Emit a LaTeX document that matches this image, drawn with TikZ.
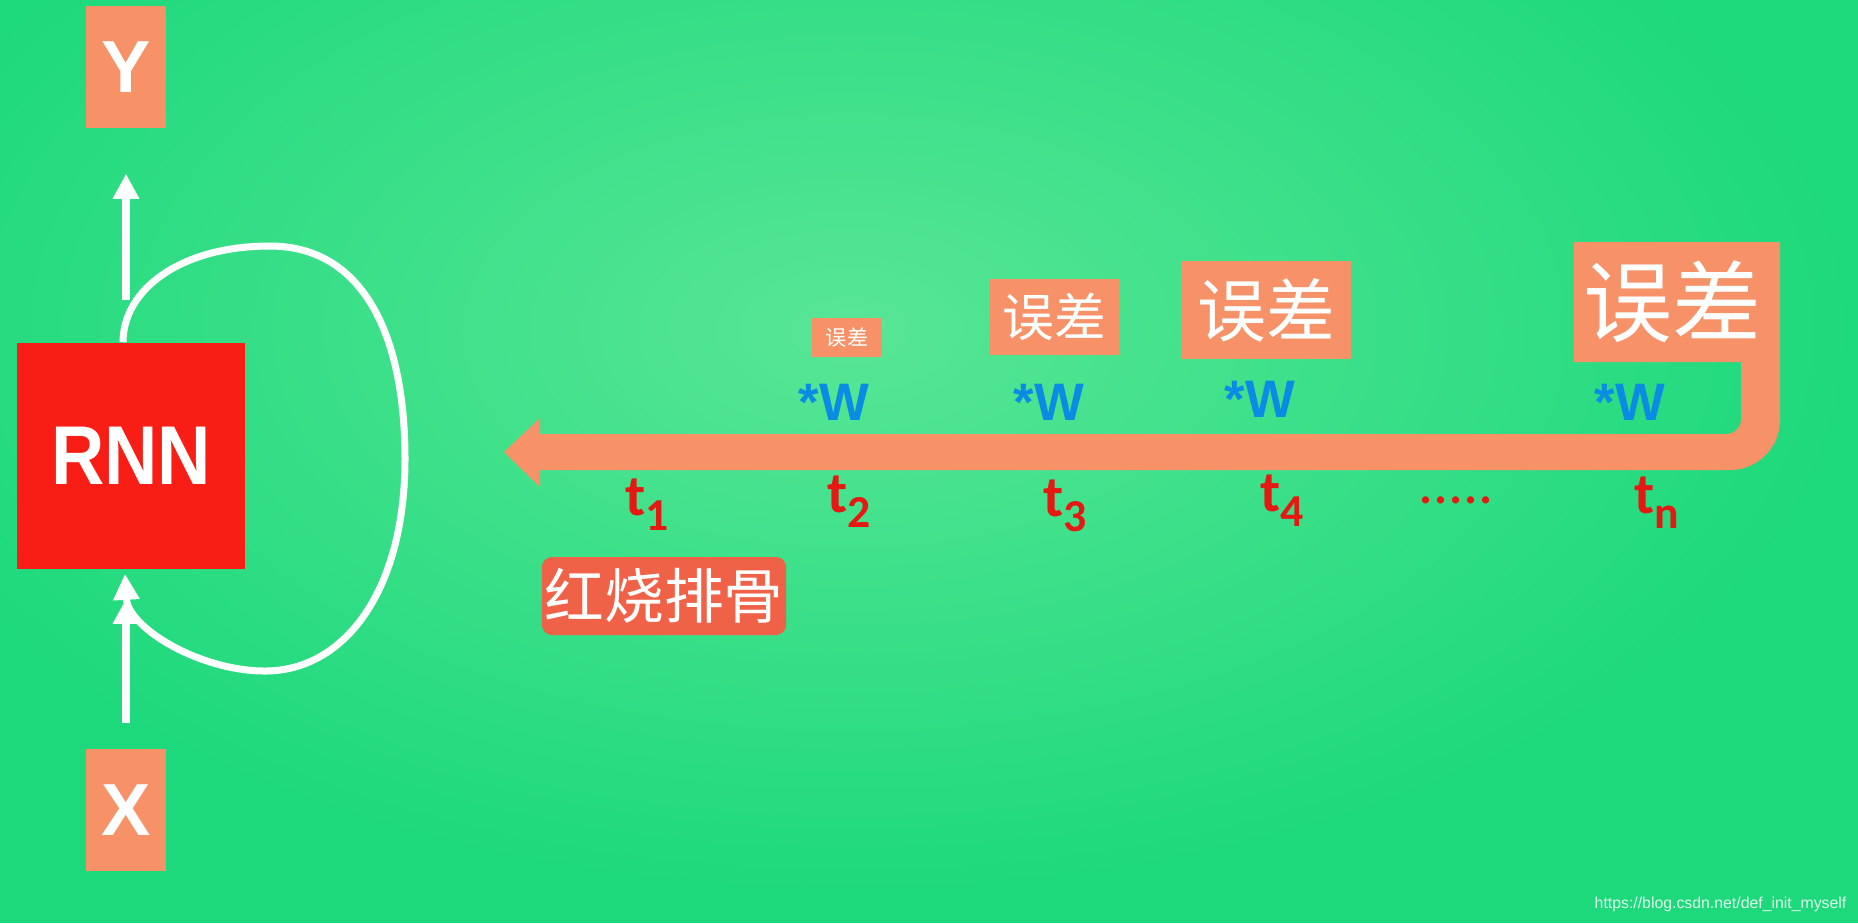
\documentclass[tikz,border=0pt]{standalone}
\usepackage{fontspec}
\setmainfont{Liberation Sans}
\newfontfamily\cjk{Noto Sans CJK SC}
\newfontfamily\carl{Carlito}
\usetikzlibrary{arrows.meta,calc}
\definecolor{bggreen}{RGB}{30,217,124}
\definecolor{bglight}{RGB}{88,230,150}
\definecolor{salmon}{RGB}{247,145,104}
\definecolor{rnnred}{RGB}{248,30,22}
\definecolor{dishred}{RGB}{240,98,72}
\definecolor{wblue}{RGB}{10,140,228}
\definecolor{tred}{RGB}{230,25,18}
\newcommand\fsz[1]{\fontsize{#1}{#1}\selectfont}
\newcommand\tlab[1]{{\carl\bfseries\fsz{16.5pt}t\raisebox{-4.3pt}{\fsz{13pt}#1}}}
\begin{document}
\begin{tikzpicture}[x=0.01cm,y=-0.01cm,
  box/.style={fill=salmon, inner sep=0pt, text=white},
  warrow/.style={draw=white, line width=0.08cm, -{Triangle[length=0.25cm,width=0.25cm]}},
  loopline/.style={draw=white, line width=0.07cm, -{Triangle[length=0.26cm,width=0.25cm]}},
  wlab/.style={text=wblue, font=\bfseries\fsz{15pt}, inner sep=0pt, anchor=base},
  tlabel/.style={text=tred, inner sep=0pt, anchor=base},
  err/.style={box}]
\useasboundingbox (0,0) rectangle (1858,923);
\fill[bggreen] (0,0) rectangle (1858,923);
\shade[inner color=bglight, outer color=bggreen] (850,330) ellipse [x radius=10cm, y radius=5.6cm];

% left part
\node[box, minimum width=0.8cm, minimum height=1.22cm, font=\bfseries\fsz{21pt}] (ybox) at (126,67) {Y};
\node[box, minimum width=0.8cm, minimum height=1.22cm, font=\bfseries\fsz{21pt}] (xbox) at (126,810) {X};
\node[fill=rnnred, inner sep=0pt, minimum width=2.28cm, minimum height=2.26cm, text=white, font=\bfseries\fsz{21pt}] (rnn) at (131,456) {\scalebox{1}[1.13]{RNN}};
\coordinate (yfoot) at (126,300);
\draw[warrow, shorten >=0.45cm] (yfoot) -- (ybox.south);
\draw[warrow, shorten <=0.25cm, shorten >=0.29cm] (xbox.north) -- (xbox.north |- rnn.south);
\draw[loopline] ($(rnn.north)+(-8,0)$) .. controls (123,290) and (180,246) .. (270,246)
  .. controls (360,246) and (405,330) .. (405,459)
  .. controls (405,590) and (345,671) .. (265,671)
  .. controls (200,671) and (128,628) .. ($(rnn.south)+(-6,4)$);

% big arrow with last box
\fill[salmon] (504,452) -- (540,418) -- (540,434) -- (1726,434)
  .. controls (1734.3,434) and (1741,427.3) .. (1741,419) -- (1741,362) -- (1574,362)
  -- (1574,242) -- (1780,242) -- (1780,420)
  .. controls (1780,447.6) and (1757.6,470) .. (1730,470) -- (540,470) -- (540,487) -- cycle;

\node[err, minimum width=0.7cm, minimum height=0.39cm, font=\cjk\fsz{6pt}] (e2) at (847,337) {误差};
\node[err, minimum width=1.29cm, minimum height=0.75cm, font=\cjk\fsz{14.7pt}] (e3) at (1054,317) {误差};
\node[err, minimum width=1.70cm, minimum height=0.98cm, font=\cjk\fsz{19.6pt}] (e4) at (1266,310) {误差};
\node[text=white, inner sep=0pt, font=\cjk\fsz{25.3pt}] (en) at (1672,302) {误差};

\node[wlab] (w2) at (834,420) {*W};
\node[wlab] (w3) at (1049,420) {*W};
\node[wlab] (w4) at (1260,417) {*W};
\node[wlab] (wn) at (1630,420) {*W};

\node[tlabel] (t1) at (647,515) {\tlab{1}};
\node[tlabel] (t2) at (849,512) {\tlab{2}};
\node[tlabel] (t3) at (1065,516) {\tlab{3}};
\node[tlabel] (t4) at (1282,511) {\tlab{4}};
\node[tlabel, font=\carl\fsz{17pt}] (dots) at (1456,503) {.....};
\node[tlabel] (tn) at (1657,513) {\tlab{n}};

\node[fill=dishred, rounded corners=0.1cm, minimum width=2.44cm, minimum height=0.78cm, inner sep=0pt, text=white, font=\cjk\fsz{17pt}] (dish) at (664,596) {红烧排骨};

\node[anchor=base east, inner sep=0pt, text=white!85!bggreen, font=\fsz{4.5pt}] (wm) at (1847,908) {https://blog.csdn.net/def\_init\_myself};
\end{tikzpicture}
\end{document}
